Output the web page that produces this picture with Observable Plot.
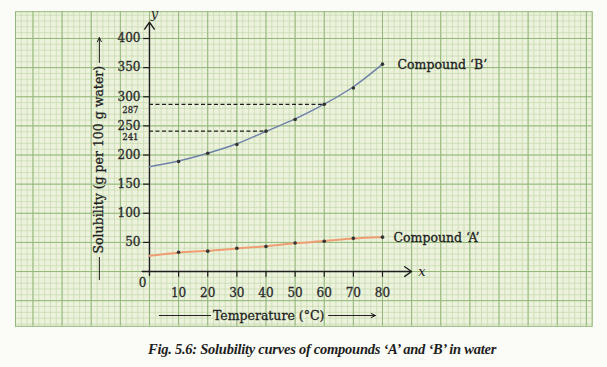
<!DOCTYPE html>
<html>
<head>
<meta charset="utf-8">
<script src="https://cdn.jsdelivr.net/npm/d3@7"></script>
<script src="https://cdn.jsdelivr.net/npm/@observablehq/plot@0.6"></script>
<style>
  html, body { margin: 0; padding: 0; background: #fbfbf7; }
  #chart svg { display: block; }
  #caption {
    height: 32px; line-height: 28px; padding-left: 148px;
    font-family: "Liberation Serif", serif; font-style: italic; font-weight: bold; font-size: 14.5px;
    letter-spacing: -0.25px; color: #1e1e1e; white-space: nowrap;
  }
</style>
</head>
<body>
<div id="chart"></div>
<div id="caption">Fig. 5.6: Solubility curves of compounds ‘A’ and ‘B’ in water</div>
<script>
// Data
const temps = [0, 10, 20, 30, 40, 50, 60, 70, 80];
const compoundA = [27, 33, 35, 40, 43, 49, 52, 57, 59];
const compoundB = [180, 189, 203, 218, 241, 261, 287, 315, 356];
const xTicks = [10, 20, 30, 40, 50, 60, 70, 80];
const yTicks = [50, 100, 150, 200, 250, 300, 350, 400];
const markedValues = [287, 241];
const markedTemps = [60, 40];

const rows = temps.map((t, i) => ({t, a: compoundA[i], b: compoundB[i]}));
const dotRows = rows.filter(d => d.t > 0);
const last = rows[rows.length - 1];
const marked = markedValues.map((v, i) => ({v, t: markedTemps[i]}));

// graph-paper grid
const xMin = -46, xMax = 152, yMin = -94, yMax = 446;
const minorX = d3.range(-46, 153, 2);
const majorX = d3.range(-40, 153, 10);
const minorY = d3.range(-90, 447, 10);
const majorY = d3.range(-50, 447, 50);

const paper = "#ecf2dc", minorC = "#c4d9ae", majorC = "#93b77b", ink = "#1e1e1e";
const bold = {stroke: "#2a2a2a", strokeWidth: 0.3};

const chart = Plot.plot({
  width: 607, height: 335,
  marginLeft: 15, marginRight: 15.3, marginTop: 11.2, marginBottom: 9.2,
  x: {domain: [xMin, xMax], axis: null},
  y: {domain: [yMin, yMax], axis: null},
  style: {background: "#fbfbf7", fontFamily: "DejaVu Serif, serif", color: ink},
  marks: [
    Plot.frame({fill: paper, stroke: null}),
    Plot.ruleX(minorX, {stroke: minorC, strokeWidth: 0.7}),
    Plot.ruleY(minorY, {stroke: minorC, strokeWidth: 0.7}),
    Plot.ruleX(majorX, {stroke: majorC, strokeWidth: 1}),
    Plot.ruleY(majorY, {stroke: majorC, strokeWidth: 1}),
    Plot.frame({stroke: majorC, strokeWidth: 1}),
    // axes
    Plot.arrow([0], {x1: -2.5, x2: 90, y1: 0, y2: 0, stroke: ink, strokeWidth: 1.4, headLength: 9, headAngle: 70}),
    Plot.arrow([0], {x1: 0, x2: 0, y1: -7, y2: 428, stroke: ink, strokeWidth: 1.4, headLength: 9, headAngle: 70}),
    Plot.ruleX(xTicks, {x: d => d, y1: 0, y2: -10, stroke: ink, strokeWidth: 1.2}),
    Plot.ruleY(yTicks, {y: d => d, x1: -2, x2: 0, stroke: ink, strokeWidth: 1.2}),
    Plot.text(xTicks, {x: d => d, y: 0, text: d => d, dy: 22, fontSize: 12, fill: "#2a2a2a", ...bold}),
    Plot.text(yTicks, {x: 0, y: d => d, text: d => d, dx: -9, textAnchor: "end", fontSize: 12, fill: "#2a2a2a", ...bold}),
    Plot.text(["0"], {x: 0, y: 0, text: d => d, dx: -7, dy: 12, fontSize: 12, fill: "#2a2a2a", ...bold}),
    Plot.text(["x"], {x: 93.5, y: 0, text: d => d, fontStyle: "italic", fontSize: 13, fill: ink}),
    Plot.text(["y"], {x: 0, y: 443, text: d => d, fontStyle: "italic", fontSize: 13, fill: ink, dx: 5}),
    // marked values
    Plot.ruleY(marked, {y: "v", x1: 0, x2: "t", stroke: ink, strokeWidth: 1.2, strokeDasharray: "4,2.5"}),
    Plot.text(marked, {x: 0, y: "v", text: "v", dx: -11, dy: 6, textAnchor: "end", fontSize: 8.5, fill: "#2a2a2a", ...bold}),
    // curves
    Plot.line(rows, {x: "t", y: "a", curve: "basis", stroke: "#ee9e72", strokeWidth: 2}),
    Plot.line(rows, {x: "t", y: "b", curve: "basis", stroke: "#6f82a8", strokeWidth: 1.5}),
    Plot.dot(dotRows, {x: "t", y: "a", r: 1.8, fill: "#333"}),
    Plot.dot(dotRows, {x: "t", y: "b", r: 1.8, fill: "#333"}),
    Plot.text([last], {x: "t", y: "b", text: () => "Compound ‘B’", dx: 15, dy: 1, textAnchor: "start", fontSize: 12.5, fill: ink, ...bold}),
    Plot.text([last], {x: "t", y: "a", text: () => "Compound ‘A’", dx: 11, dy: 1, textAnchor: "start", fontSize: 12.5, fill: ink, ...bold}),
    // axis titles
    Plot.text(["Temperature (°C)"], {x: 40.9, y: -75.5, text: d => d, fontSize: 12.5, fill: ink, ...bold}),
    Plot.ruleY([-75.5], {x1: 3.4, x2: 21.3, stroke: ink, strokeWidth: 1}),
    Plot.arrow([0], {x1: 61.5, x2: 77.6, y1: -75.5, y2: -75.5, stroke: ink, strokeWidth: 1, headLength: 7, headAngle: 50}),
    Plot.text(["Solubility (g per 100 g water)"], {x: -17.2, y: 192, text: d => d, rotate: -90, fontSize: 12.5, fill: ink, ...bold}),
    Plot.ruleX([-17.2], {y1: -15.5, y2: 24, stroke: ink, strokeWidth: 1}),
    Plot.arrow([0], {x1: -17.2, x2: -17.2, y1: 358.8, y2: 401.7, stroke: ink, strokeWidth: 1, headLength: 7, headAngle: 50})
  ]
});
document.getElementById("chart").appendChild(chart);
</script>
</body>
</html>
